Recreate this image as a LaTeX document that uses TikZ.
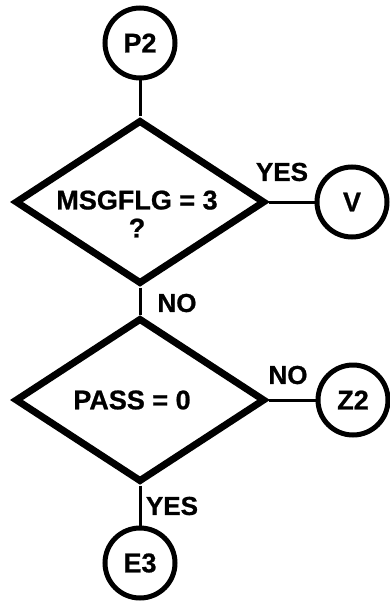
\documentclass[tikz,border=0pt]{standalone}
\usepackage{fontspec}
\setmainfont{Liberation Sans}[BoldFeatures={FakeBold=0.8}]
\usetikzlibrary{shapes.geometric}

\begin{document}
\begin{tikzpicture}[%
x=1pt, y=-1pt,
every node/.style={font=\fontsize{27}{28}\selectfont\bfseries},
kobling/.style={draw,circle,line width=5pt,minimum size=70pt,inner sep=0pt},
valg/.style={draw,diamond,line width=7pt,minimum width=250pt,minimum height=164pt,inner sep=0pt},
linje/.style={line width=3pt},
svar/.style={inner sep=1pt,font=\fontsize{26}{27}\selectfont\bfseries}]
\useasboundingbox (0,0) rectangle (389,604);
\node [kobling] (p2) at (140,43)  {P2};
\node [valg]    (valg1) at (140,202) {};
\node [align=center] (tekst1) at (137,214) {MSGFLG = 3\\?};
\node [kobling] (v)  at (352,202) {V};
\node [valg]    (valg2) at (140,400) {};
\node (tekst2) at (132,400) {PASS = 0};
\node [kobling] (z2) at (353,400) {Z2};
\node [kobling] (e3) at (140,563) {E3};
\node [svar] (ja1)  at (282,172) {YES};
\node [svar] (nei1) at (177,303) {NO};
\node [svar] (nei2) at (288,375) {NO};
\node [svar] (ja2)  at (172,506) {YES};
\draw [linje] (p2.south)    -- (valg1.north);
\draw [linje] (valg1.east)  -- (v.west);
\draw [linje] (valg1.south) -- (valg2.north);
\draw [linje] (valg2.east)  -- (z2.west);
\draw [linje] (valg2.south) -- (e3.north);
\end{tikzpicture}
\end{document}
